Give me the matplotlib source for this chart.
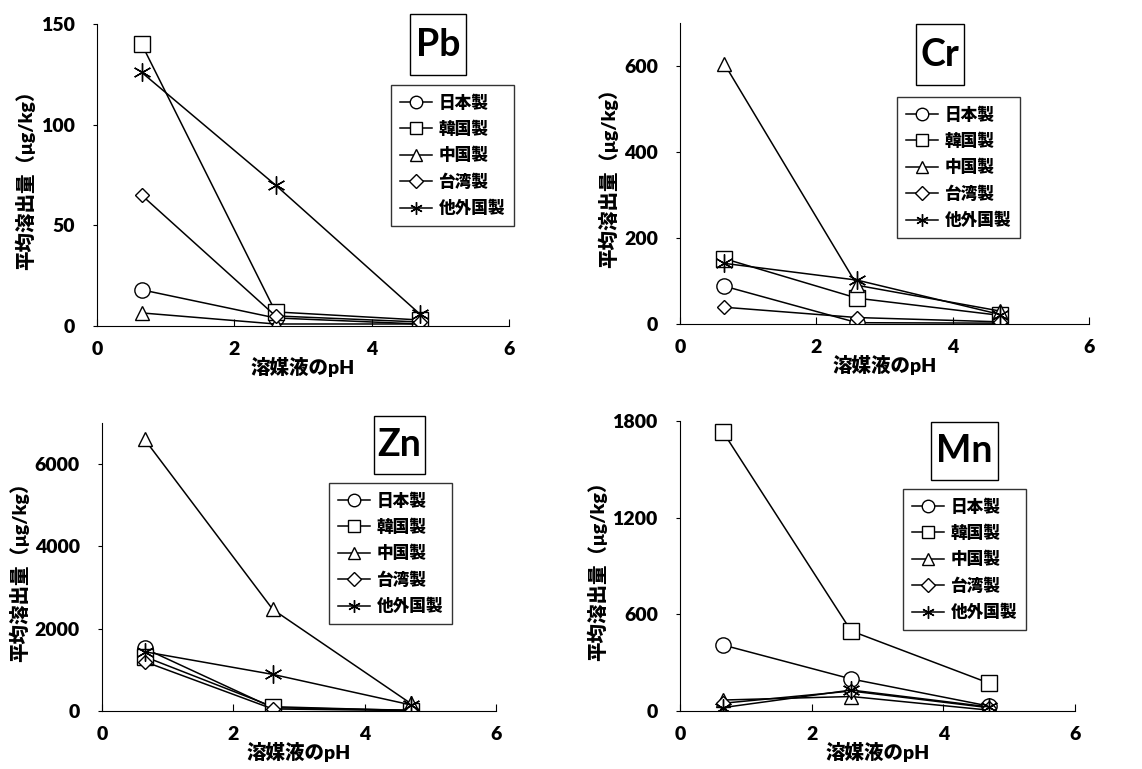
import matplotlib
matplotlib.use("Agg")
import matplotlib.pyplot as plt
from matplotlib.patches import Rectangle

plt.rcParams['font.family'] = ['Lato', 'Noto Sans CJK JP', 'DejaVu Sans']
plt.rcParams['font.weight'] = 'heavy'

ph = [0.65, 2.6, 4.7]
labels = ["日本製", "韓国製", "中国製", "台湾製", "他外国製"]
markers = ["o", "s", "^", "D", (6, 2, 0)]

pb = {
    "日本製": [18, 4, 1],
    "韓国製": [140, 7, 3],
    "中国製": [6.5, 1, 1],
    "台湾製": [65, 5, 2],
    "他外国製": [126, 70, 6],
}
cr = {
    "日本製": [88, 3, 2],
    "韓国製": [152, 60, 20],
    "中国製": [605, 90, 30],
    "台湾製": [39, 15, 5],
    "他外国製": [141, 102, 22],
}
zn = {
    "日本製": [1520, 80, 20],
    "韓国製": [1320, 105, 10],
    "中国製": [6600, 2470, 185],
    "台湾製": [1200, 50, 10],
    "他外国製": [1440, 890, 150],
}
mn = {
    "日本製": [410, 199, 30],
    "韓国製": [1734, 497, 172],
    "中国製": [68, 90, 5],
    "台湾製": [48, 124, 20],
    "他外国製": [21, 130, 25],
}

W, H = 1142, 769
fig = plt.figure(figsize=(W / 100, H / 100), dpi=100)

panels = [
    ("Pb", pb, (97, 24, 509, 326), 150, [0, 50, 100, 150], (410, 14, 466, 75), (391, 85)),
    ("Cr", cr, (680, 23, 1089, 324), 700, [0, 200, 400, 600], (916, 24, 964, 85), (897, 97)),
    ("Zn", zn, (102, 423, 496, 711), 7000, [0, 2000, 4000, 6000], (374, 416, 425, 474), (329, 483)),
    ("Mn", mn, (680, 421, 1075, 711), 1800, [0, 600, 1200, 1800], (931, 422, 998, 480), (903, 489)),
]

for name, data, (l, t, r, b), ymax, yticks, tb, lg in panels:
    ax = fig.add_axes([l / W, 1 - b / H, (r - l) / W, (b - t) / H])
    for lab, m in zip(labels, markers):
        ms = 11
        if m == "D":
            ms = 7
        if m == "^":
            ms = 10
        if m == (6, 2, 0):
            ms = 13
        ax.plot(ph, data[lab], color="black", lw=1.1, marker=m, ms=ms,
                mfc="white", mec="black", mew=1.0, label=lab)
    ax.set_xlim(0, 6)
    ax.set_ylim(0, ymax)
    ax.set_xticks([0, 2, 4, 6])
    ax.set_yticks(yticks)
    ax.spines["top"].set_visible(False)
    ax.spines["right"].set_visible(False)
    ax.tick_params(axis="x", direction="in", length=5, labelsize=14, pad=11)
    ax.tick_params(axis="y", direction="out", length=3, labelsize=14, pad=13)
    ax.set_xlabel("溶媒液のpH", fontsize=14, fontweight="heavy", labelpad=-1)
    ax.set_ylabel("平均溶出量（μg/kg）", fontsize=14, fontweight="heavy", labelpad=4)
    leg = ax.legend(loc="upper left", bbox_to_anchor=(lg[0] / W, 1 - lg[1] / H),
                    bbox_transform=fig.transFigure, frameon=True, borderaxespad=0,
                    fancybox=False, edgecolor="black", handlelength=1.9,
                    labelspacing=0.6, borderpad=0.55, handletextpad=0.4,
                    prop={"weight": "heavy", "size": 12})
    leg.get_frame().set_linewidth(1.0)
    for h in leg.legend_handles:
        h.set_markersize(9 if h.get_marker() != "D" else 7)
    fig.patches.append(Rectangle((tb[0] / W, 1 - tb[3] / H), (tb[2] - tb[0]) / W,
                                 (tb[3] - tb[1]) / H, transform=fig.transFigure,
                                 fc="white", ec="black", lw=1.0, zorder=5))
    cx = (tb[0] + tb[2]) / 2 / W
    cy = 1 - (tb[1] + tb[3]) / 2 / H
    fig.text(cx, cy, name, ha="center", va="center", fontsize=27, fontweight="bold",
             zorder=6)

fig.savefig("out.png", dpi=100)
